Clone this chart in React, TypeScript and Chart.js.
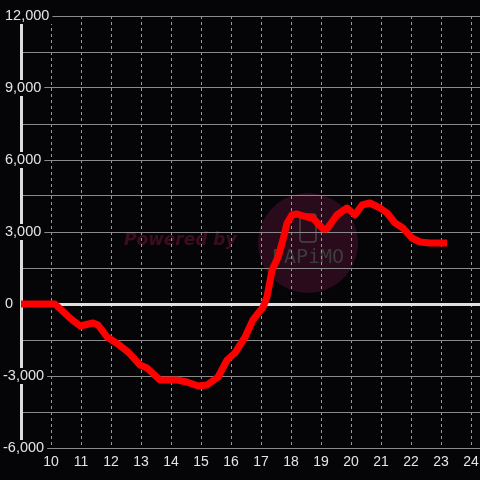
import React, { useEffect, useRef } from "react";
import { Chart, registerables } from "chart.js";

Chart.register(...registerables);

// Time of day (hours) and cumulative value
const hours = [
  9.0, 10.13, 10.63, 10.97, 11.4, 11.57, 11.87, 12.23, 12.57, 12.97, 13.2, 13.63,
  14.2, 14.53, 14.9, 15.2, 15.57, 15.87, 16.13, 16.47, 16.73, 17.07, 17.2, 17.37,
  17.57, 17.73, 17.87, 18.03, 18.2, 18.53, 18.73, 19.07, 19.2, 19.53, 19.87, 20.13,
  20.37, 20.63, 20.97, 21.2, 21.47, 21.73, 22.03, 22.3, 22.63, 23.2,
];
const values = [
  0, 0, -583, -917, -792, -875, -1375, -1667, -2000, -2542, -2667, -3167,
  -3167, -3250, -3417, -3375, -3042, -2333, -2042, -1375, -667, -125, 292, 1417,
  1958, 2667, 3375, 3708, 3750, 3625, 3583, 3125, 3125, 3708, 4000, 3708,
  4125, 4208, 4000, 3792, 3375, 3167, 2750, 2583, 2542, 2542,
];
const xTicks = [10, 11, 12, 13, 14, 15, 16, 17, 18, 19, 20, 21, 22, 23, 24];
const yLabelValues = [12000, 9000, 6000, 3000, 0, -3000, -6000];

const BG = "#050508";

export default function App() {
  const ref = useRef<HTMLCanvasElement>(null);
  useEffect(() => {
    const canvas = ref.current!;
    const bgPlugin = {
      id: "bgWatermark",
      beforeDraw(chart: any) {
        const ctx = chart.ctx;
        ctx.save();
        ctx.fillStyle = BG;
        ctx.fillRect(0, 0, chart.width, chart.height);
        // watermark circle
        ctx.fillStyle = "#2a0b1c";
        ctx.beginPath();
        ctx.arc(308, 243, 50, 0, Math.PI * 2);
        ctx.fill();
        // phone icon
        ctx.strokeStyle = "#474747";
        ctx.lineWidth = 1.5;
        const rx = 300, ry = 214, rw = 16, rh = 28, r = 3;
        ctx.beginPath();
        ctx.moveTo(rx + r, ry);
        ctx.lineTo(rx + rw - r, ry);
        ctx.quadraticCurveTo(rx + rw, ry, rx + rw, ry + r);
        ctx.lineTo(rx + rw, ry + rh - r);
        ctx.quadraticCurveTo(rx + rw, ry + rh, rx + rw - r, ry + rh);
        ctx.lineTo(rx + r, ry + rh);
        ctx.quadraticCurveTo(rx, ry + rh, rx, ry + rh - r);
        ctx.lineTo(rx, ry + r);
        ctx.quadraticCurveTo(rx, ry, rx + r, ry);
        ctx.stroke();
        // PAPiMO text
        ctx.fillStyle = "#3c3c3c";
        ctx.font = "20px 'DejaVu Sans Mono'";
        ctx.textAlign = "center";
        ctx.textBaseline = "middle";
        ctx.fillText("PAPiMO", 308, 258);
        // Powered by
        ctx.fillStyle = "#3d0c20";
        ctx.font = "italic bold 17px 'DejaVu Sans'";
        ctx.textAlign = "left";
        ctx.fillText("Powered by", 124, 241);
        ctx.restore();
      },
    };
    const yLabelPlugin = {
      id: "yLabels",
      afterDraw(chart: any) {
        const ctx = chart.ctx;
        const y = chart.scales.y;
        ctx.save();
        ctx.font = "14.5px 'Liberation Sans', Arial, sans-serif";
        ctx.textBaseline = "middle";
        ctx.textAlign = "left";
        yLabelValues.forEach((v) => {
          const py = y.getPixelForValue(v);
          const txt = v.toLocaleString("en-US");
          const w = ctx.measureText(txt).width;
          const x0 = v < 0 ? 3 : 5;
          ctx.fillStyle = BG;
          ctx.fillRect(0, py - 8, x0 + w + 3, 16);
          ctx.fillStyle = "#e4e4e4";
          ctx.fillText(txt, x0, py);
        });
        ctx.restore();
      },
    };
    const chart = new Chart(canvas, {
      type: "line",
      data: {
        datasets: [
          {
            data: hours.map((h, i) => ({ x: h, y: values[i] })),
            borderColor: "#ff0000",
            borderWidth: 7,
            pointRadius: 0,
            tension: 0,
            borderJoinStyle: "round",
            borderCapStyle: "butt",
          },
        ],
      },
      options: {
        animation: false,
        responsive: false,
        layout: { padding: { top: 16, left: 0, right: 0, bottom: 0 } },
        plugins: { legend: { display: false }, tooltip: { enabled: false } },
        scales: {
          x: {
            type: "linear",
            min: 9,
            max: 24.3,
            afterBuildTicks: (axis: any) => {
              axis.ticks = xTicks.map((v) => ({ value: v }));
            },
            afterFit: (scale: any) => {
              scale.height = 32;
              scale.paddingRight = 0;
              scale.paddingLeft = 0;
            },
            ticks: {
              color: "#e4e4e4",
              font: { family: "'Liberation Sans', Arial, sans-serif", size: 14 },
              padding: 6,
              maxRotation: 0,
              autoSkip: false,
            },
            grid: { color: "#9a9a9a", lineWidth: 1, drawTicks: false },
            border: { display: false, dash: [3, 3] },
          },
          y: {
            type: "linear",
            min: -6000,
            max: 12000,
            afterFit: (scale: any) => {
              scale.width = 21;
              scale.paddingTop = 0;
              scale.paddingBottom = 0;
            },
            ticks: { display: false, stepSize: 1500 },
            grid: {
              drawTicks: false,
              color: (ctx: any) => (ctx.tick && ctx.tick.value === 0 ? "#e0e0e0" : "#8a8a8a"),
              lineWidth: (ctx: any) => (ctx.tick && ctx.tick.value === 0 ? 3 : 1),
            },
            border: { display: true, color: "#dcdcdc", width: 3 },
          },
        },
      },
      plugins: [bgPlugin, yLabelPlugin],
    } as any);
    return () => chart.destroy();
  }, []);
  return (
    <div style={{ position: "fixed", left: 0, top: 0, width: 480, height: 480, background: BG }}>
      <canvas ref={ref} width={480} height={480} style={{ display: "block" }} />
    </div>
  );
}
